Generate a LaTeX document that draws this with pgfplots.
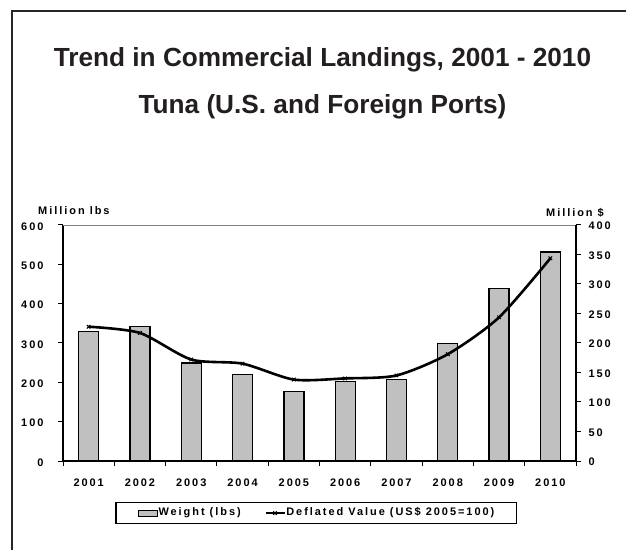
\documentclass[border=0pt]{standalone}
\usepackage{fontspec}
\setmainfont{Liberation Sans}
\newfontfamily\spaced[LetterSpace=18]{Liberation Sans}
\usepackage{pgfplots}
\usepackage{pgfplotstable}
\pgfplotsset{compat=1.18}

\definecolor{barfill}{RGB}{192,192,192}
\definecolor{titlecol}{RGB}{35,31,32}

% year, weight (million lbs), deflated value (million $)
\pgfplotstableread{
x   w    v
1   330  227.6
2   342  217
3   249  172
4   220  165
5   176  138
6   203  140
7   208  145
8   298  181
9   438  243.5
10  531  343.6
}\landings

\newcommand{\lblfont}{\spaced\bfseries\fontsize{11}{12}\selectfont}

\pgfplotsset{
    box swatch/.style={legend image code/.code={
        \draw[##1] (0bp,-3bp) rectangle (19bp,3bp);}},
    line swatch/.style={legend image code/.code={
        \draw[##1, mark repeat=2, mark phase=2]
            plot coordinates {(0bp,0bp) (9.5bp,0bp) (19bp,0bp)};}},
}

\begin{document}
\begin{tikzpicture}
\path[use as bounding box] (0bp,0bp) rectangle (626bp,550bp);
\draw[line width=2bp, color=black!85] (12bp,0bp) -- (12bp,539bp) -- (628bp,539bp);

\node[font=\fontsize{26.3}{30}\selectfont\bfseries, text=titlecol, anchor=base]
    at (322.5bp,483bp) {Trend in Commercial Landings, 2001 - 2010};
\node[font=\fontsize{26.3}{30}\selectfont\bfseries, text=titlecol, anchor=base]
    at (322.5bp,436bp) {Tuna (U.S. and Foreign Ports)};

\node[font=\lblfont, anchor=base west, inner sep=0] at (38bp,335bp) {Million lbs};
\node[font=\lblfont, anchor=base east, inner sep=0] at (604bp,333bp) {Million \$};

\pgfplotsset{
    every axis/.append style={
        scale only axis, width=513bp, height=236bp,
        at={(63bp,89bp)}, anchor=south west,
        xmin=0.5, xmax=10.5,
        tick align=outside, major tick length=5bp,
        tick style={black, line width=1bp},
        axis line style={black, line width=1.2bp},
        ticklabel style={font=\lblfont},
        /pgf/number format/assume math mode=true,
    },
}

\begin{axis}[
    ymin=0, ymax=600,
    ytick={0,100,...,600},
    axis y line*=left, axis x line*=bottom,
    xtick={0.5,1.5,...,10.5}, xticklabels={},
    extra x ticks={1,...,10},
    extra x tick labels={2001,2002,2003,2004,2005,2006,2007,2008,2009,2010},
    extra x tick style={major tick length=0pt, xticklabel style={yshift=-14bp}},
    yticklabel style={xshift=-11bp, yshift=-1.5bp},
]
\draw[gray, line width=0.8bp] (rel axis cs:0,1) -- (rel axis cs:1,1);
\addplot[ybar, bar width=20bp, fill=barfill, draw=black, line width=1.3bp]
    table[x=x, y=w] {\landings};
\end{axis}

\begin{axis}[
    ymin=0, ymax=400,
    ytick={0,50,...,400},
    yticklabel style={xshift=4bp, yshift=-1bp},
    axis y line*=right, axis x line=none,
    legend columns=2,
    legend style={
        at={(0.494,-0.1737)}, anchor=north,
        draw=black, line width=1.2bp,
        font=\lblfont,
        inner xsep=22bp, inner ysep=5.25bp,
        nodes={inner xsep=0.5bp, inner ysep=0pt, text height=8bp, text depth=2.5bp},
        /tikz/every even column/.append style={column sep=23bp},
    },
]
\addlegendimage{fill=barfill, draw=black, line width=1bp, box swatch}
\addlegendentry{Weight (lbs)}
\addplot[black, line width=2.6bp, smooth, tension=0.45, mark=x, mark size=2.5bp,
    mark options={line width=1bp}, line swatch]
    table[x=x, y=v] {\landings};
\addlegendentry{Deflated Value (US\$ 2005=100)}
\end{axis}
\end{tikzpicture}
\end{document}
